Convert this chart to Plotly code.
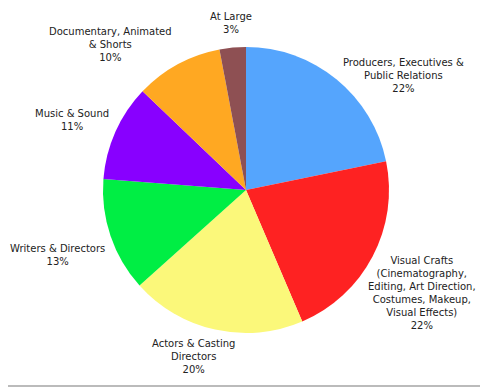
import plotly.graph_objects as go

labels = [
    "Producers, Executives &<br>Public Relations",
    "Visual Crafts<br>(Cinematography,<br>Editing, Art Direction,<br>Costumes, Makeup,<br>Visual Effects)",
    "Actors & Casting<br>Directors",
    "Writers & Directors",
    "Music & Sound",
    "Documentary, Animated<br>& Shorts",
    "At Large",
]
values = [22, 22, 20, 13, 11, 10, 3]
colors = ["#55A5FD", "#FE2222", "#FBF87A", "#00EE44", "#8800FF", "#FFA822", "#8E5053"]

# label placement (pixels from top-left of the reference canvas), kept separate from data
label_px = [(403, 76), (422, 293), (193, 356), (57, 255), (72, 120), (110, 44), (231, 23)]

# the page body has an 8px margin, so the figure is drawn 8px in from the window corner
OFF = 8
W, H = 488 - OFF, 387 - OFF


def px_x(x):
    return (x - OFF) / W


def px_y(y):
    return 1 - (y - OFF) / H


fig = go.Figure(go.Pie(
    labels=labels,
    values=values,
    sort=False,
    direction="clockwise",
    rotation=0,
    marker=dict(colors=colors, line=dict(width=0)),
    textinfo="none",
    hoverinfo="label+value",
    domain=dict(x=[px_x(103), px_x(389)], y=[px_y(333), px_y(47)]),
    showlegend=False,
))

annotations = []
for lab, val, (px, py) in zip(labels, values, label_px):
    annotations.append(dict(
        x=px_x(px), y=px_y(py), xref="paper", yref="paper",
        text=f"{lab}<br>{val}%", showarrow=False,
        xanchor="center", yanchor="middle", align="center",
        font=dict(family="DejaVu Sans", size=10, color="#222222"),
    ))

fig.update_layout(
    width=W, height=H,
    margin=dict(l=0, r=0, t=0, b=0),
    paper_bgcolor="white",
    plot_bgcolor="white",
    annotations=annotations,
    shapes=[dict(type="line", xref="paper", yref="paper", x0=0, x1=1,
                 y0=px_y(386), y1=px_y(386),
                 line=dict(color="#BBBBBB", width=2))],
)
fig.write_html("out.html")
